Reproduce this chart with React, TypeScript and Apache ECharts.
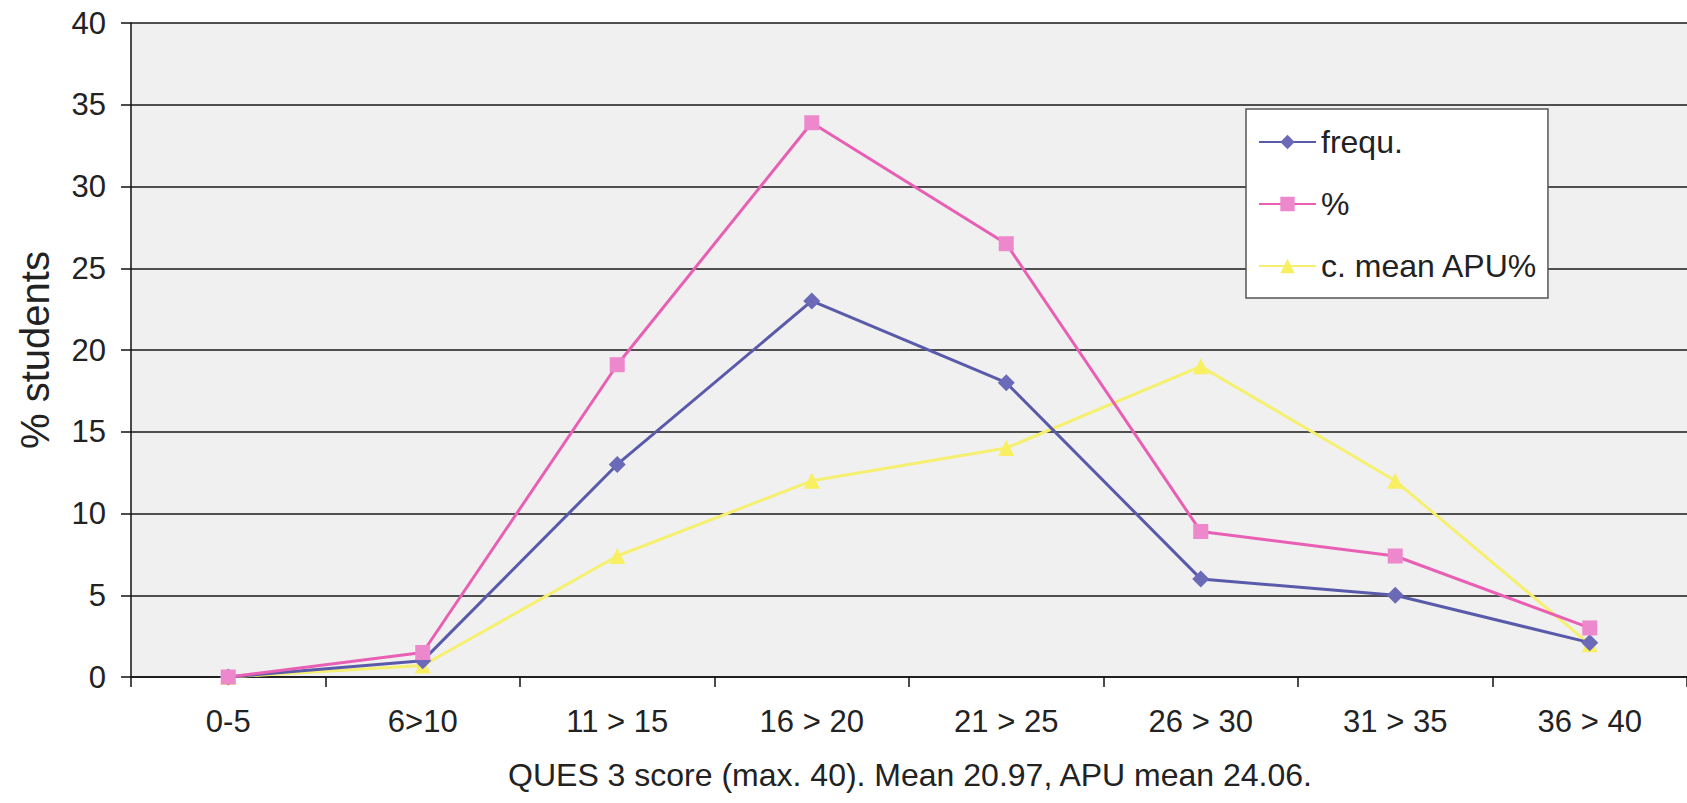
import React, { useEffect, useRef } from "react";
import * as echarts from "echarts";

const categories = ["0-5", "6>10", "11 > 15", "16 > 20", "21 > 25", "26 > 30", "31 > 35", "36 > 40"];
const frequ = [0, 1, 13, 23, 18, 6, 5, 2.1];
const percent = [0, 1.5, 19.1, 33.9, 26.5, 8.9, 7.4, 3];
const cMeanAPU = [0, 0.7, 7.4, 12, 14, 19, 12, 2];
const yTicks = { min: 0, max: 40, interval: 5 };
const xAxisTitle = "QUES 3 score (max. 40). Mean 20.97, APU mean 24.06.";
const yAxisTitle = "% students";

const FONT = "'Liberation Sans', Arial, sans-serif";

export default function App() {
  const ref = useRef<HTMLDivElement>(null);
  useEffect(() => {
    const chart = echarts.init(ref.current!, undefined, { renderer: "svg" });
    chart.setOption({
      animation: false,
      backgroundColor: "#ffffff",
      textStyle: { fontFamily: FONT },
      grid: {
        left: 131,
        top: 23,
        width: 1568,
        height: 654,
        show: true,
        backgroundColor: "#f0f0f0",
        borderWidth: 0,
      },
      legend: {
        orient: "vertical",
        left: 1246,
        top: 109,
        backgroundColor: "#ffffff",
        borderColor: "#555555",
        borderWidth: 1.5,
        borderRadius: 0,
        padding: [17, 10, 16, 12],
        itemWidth: 57,
        itemHeight: 18,
        itemGap: 30,
        textStyle: { fontSize: 32, lineHeight: 32, color: "#222222", fontFamily: FONT },
        data: ["frequ.", "%", "c. mean APU%"],
      },
      xAxis: {
        type: "category",
        data: categories,
        boundaryGap: true,
        axisLine: { show: true, lineStyle: { color: "#111111", width: 1.5 } },
        axisTick: { show: true, length: 10, lineStyle: { color: "#111111", width: 1.5 } },
        axisLabel: { fontSize: 31, color: "#222222", margin: 29, fontFamily: FONT },
      },
      yAxis: {
        type: "value",
        min: yTicks.min,
        max: yTicks.max,
        interval: yTicks.interval,
        name: yAxisTitle,
        nameLocation: "middle",
        nameGap: 76,
        nameRotate: 90,
        nameTextStyle: { fontSize: 40, color: "#222222", fontFamily: FONT },
        axisLine: { show: true, lineStyle: { color: "#111111", width: 1.5 } },
        axisTick: { show: true, length: 10, lineStyle: { color: "#111111", width: 1.5 } },
        axisLabel: { fontSize: 31, color: "#222222", margin: 25, fontFamily: FONT },
        splitLine: { show: true, lineStyle: { color: "#1a1a1a", width: 1.5 } },
      },
      graphic: [
        {
          type: "text",
          x: 910,
          y: 775,
          style: {
            text: xAxisTitle,
            fontSize: 32,
            fontFamily: FONT,
            fill: "#222222",
            textAlign: "center",
            textVerticalAlign: "middle",
          },
        },
      ],
      series: [
        {
          name: "frequ.",
          type: "line",
          data: frequ,
          symbol: "diamond",
          symbolSize: 17,
          lineStyle: { color: "#5a5aaa", width: 3 },
          itemStyle: { color: "#6a6ab8" },
          z: 3,
        },
        {
          name: "%",
          type: "line",
          data: percent,
          symbol: "rect",
          symbolSize: 15,
          lineStyle: { color: "#e85fb4", width: 3 },
          itemStyle: { color: "#ee88cc" },
          z: 4,
        },
        {
          name: "c. mean APU%",
          type: "line",
          data: cMeanAPU,
          symbol: "triangle",
          symbolSize: 16,
          lineStyle: { color: "#f5f070", width: 3 },
          itemStyle: { color: "#f8f060" },
          z: 2,
        },
      ],
    });
    return () => chart.dispose();
  }, []);
  return (
    <div
      ref={ref}
      style={{ position: "absolute", left: 0, top: 0, width: 1687, height: 803 }}
    />
  );
}
